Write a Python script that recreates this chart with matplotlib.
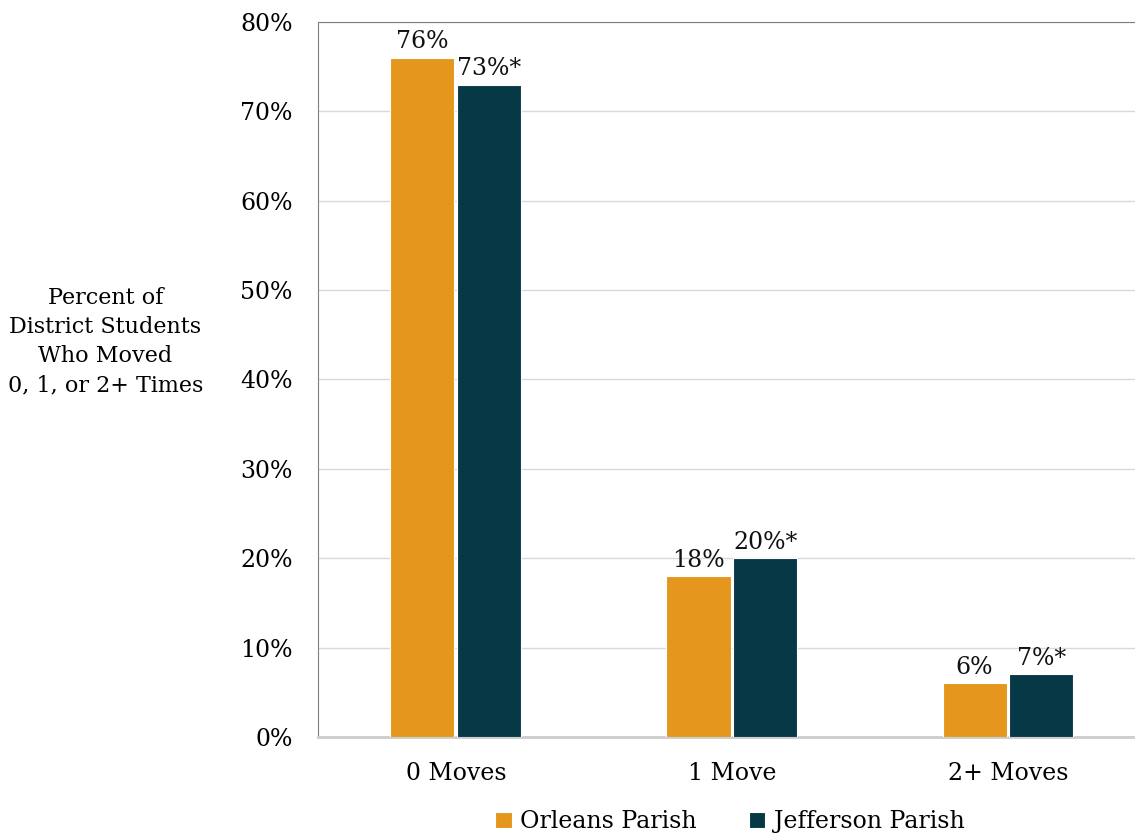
import numpy as np
import matplotlib.pyplot as plt

plt.rcParams['font.family'] = ['DejaVu Serif']

categories = ["0 Moves", "1 Move", "2+ Moves"]
orleans = [76, 18, 6]
jefferson = [73, 20, 7]
orleans_labels = ["76%", "18%", "6%"]
jefferson_labels = ["73%*", "20%*", "7%*"]

orange = "#E5971D"
teal = "#073845"
fs = 17

fig = plt.figure(figsize=(11.35, 8.35), dpi=100)
ax = fig.add_axes([0.280, 0.1174, 0.72, 0.8563])

x = np.arange(len(categories))
w = 0.232
b1 = ax.bar(x - w / 2 - 0.005, orleans, w, color=orange, edgecolor="white", linewidth=0.8,
            label="Orleans Parish", zorder=3)
b2 = ax.bar(x + w / 2 + 0.005, jefferson, w, color=teal, edgecolor="white", linewidth=0.8,
            label="Jefferson Parish", zorder=3)

for bars, labels in [(b1, orleans_labels), (b2, jefferson_labels)]:
    for rect, lab in zip(bars, labels):
        ax.text(rect.get_x() + rect.get_width() / 2, rect.get_height() + 0.5, lab,
                ha="center", va="bottom", fontsize=fs, color="#111111")

ax.set_xlim(-0.5, 2.46)
ax.set_ylim(0, 80)
ax.set_yticks(np.arange(0, 81, 10))
ax.set_yticklabels([f"{v}%" for v in range(0, 81, 10)], fontsize=fs)
ax.set_xticks(x)
ax.set_xticklabels(categories, fontsize=fs)
ax.tick_params(axis="x", length=0, pad=18)
ax.tick_params(axis="y", length=0, pad=18)

ax.grid(axis="y", color="#d9d9d9", linewidth=1, zorder=0)
ax.spines["left"].set_color("#7f7f7f")
ax.spines["top"].set_color("#7f7f7f")
ax.spines["bottom"].set_color("#cccccc")
ax.spines["bottom"].set_linewidth(2)
ax.spines["right"].set_visible(False)

fig.text(0.093, 0.591, "Percent of\nDistrict Students\nWho Moved\n0, 1, or 2+ Times",
         ha="center", va="center", fontsize=16, linespacing=1.42)

fig.legend(handles=[b1, b2], loc="center", bbox_to_anchor=(0.643, 0.016), ncol=2,
           frameon=False, fontsize=fs, handlelength=0.7, handleheight=0.7,
           handletextpad=0.35, columnspacing=2.2)

fig.savefig("out.png", dpi=100)
